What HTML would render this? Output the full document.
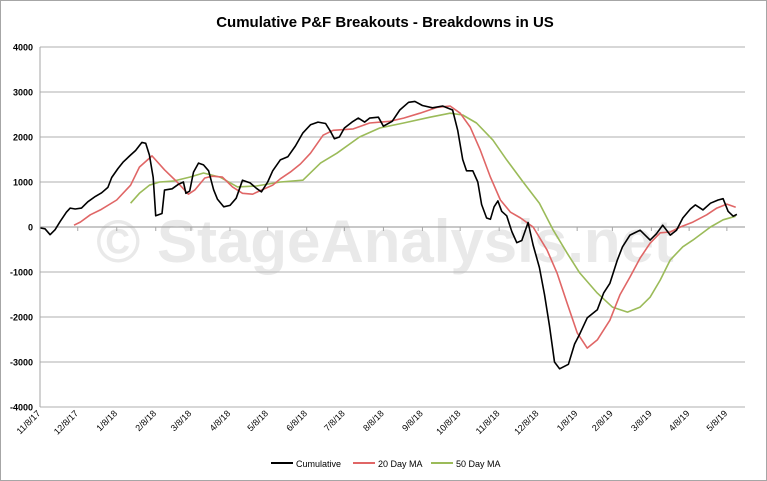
<!DOCTYPE html>
<html><head><meta charset="utf-8"><style>
html,body{margin:0;padding:0;background:#fff}
svg{display:block;font-family:"Liberation Sans",Calibri,sans-serif}
</style></head><body>
<svg id="chart" width="767" height="481" viewBox="0 0 767 481" xmlns="http://www.w3.org/2000/svg">
<rect x="0.5" y="0.5" width="766" height="480" fill="#fff" stroke="#a6a6a6"/>
<text x="385" y="27" text-anchor="middle" font-size="15" font-weight="bold" fill="#000">Cumulative P&amp;F Breakouts - Breakdowns in US</text>
<text x="385" y="262" text-anchor="middle" font-size="60" font-weight="bold" fill="#e9e9e9">© StageAnalysis.net</text>
<g id="grid"></g><g id="series"></g><g id="axes"></g>
<g>
<line x1="271" y1="463" x2="293" y2="463" stroke="#000" stroke-width="2"/>
<text x="296" y="467" font-size="9">Cumulative</text>
<line x1="353" y1="463" x2="375" y2="463" stroke="#e06666" stroke-width="2"/>
<text x="378" y="467" font-size="9">20 Day MA</text>
<line x1="431" y1="463" x2="453" y2="463" stroke="#9bbb59" stroke-width="2"/>
<text x="456" y="467" font-size="9">50 Day MA</text>
</g>
</svg>
<script>
const yTicks=[4000,3000,2000,1000,0,-1000,-2000,-3000,-4000];
const xTickLabels=["11/8/17","12/8/17","1/8/18","2/8/18","3/8/18","4/8/18","5/8/18","6/8/18","7/8/18","8/8/18","9/8/18","10/8/18","11/8/18","12/8/18","1/8/19","2/8/19","3/8/19","4/8/19","5/8/19"];
const xTickDays=[0,30,61,92,120,151,181,212,242,273,304,334,365,396,427,455,486,516,546];
const cumDays=[0,4,8,12,16,21,24,28,33,38,44,49,54,57,62,66,72,76,81,84,87,90,92,97,99,105,110,114,116,119,122,126,130,134,138,141,146,151,156,161,167,172,176,181,185,191,197,203,209,215,221,227,231,234,238,242,248,253,258,262,269,273,280,286,293,298,304,312,320,328,332,336,339,344,348,351,355,358,361,364,367,371,375,379,383,388,392,397,401,405,409,413,420,425,429,435,443,448,453,459,463,469,477,485,490,495,501,506,511,517,521,527,533,539,543,547,551,554];
const cumValues=[-20,-40,-170,-60,120,330,420,400,420,560,680,760,880,1100,1300,1440,1600,1700,1880,1860,1600,1100,250,300,820,850,950,1000,750,800,1220,1420,1380,1250,830,620,450,480,640,1040,980,860,780,1000,1250,1490,1560,1800,2090,2270,2330,2300,2120,1960,2000,2200,2330,2420,2330,2420,2440,2240,2350,2600,2770,2790,2700,2650,2690,2600,2150,1500,1250,1250,1000,500,200,170,450,580,350,250,-100,-350,-300,100,-400,-900,-1500,-2200,-3000,-3150,-3050,-2600,-2380,-2020,-1840,-1470,-1250,-730,-440,-180,-70,-290,-150,40,-180,-70,200,400,490,380,530,600,630,350,240,280];
const ma20Days=[27,32,40,48,61,72,79,89,99,109,118,123,131,137,145,153,161,169,176,185,191,199,207,215,225,233,249,262,278,289,302,316,326,334,342,350,358,366,374,382,392,403,411,419,427,435,443,453,461,469,477,485,493,501,509,519,530,538,546,553];
const ma20Values=[40,110,270,380,600,930,1330,1580,1270,1000,730,820,1090,1130,1110,890,750,730,820,930,1070,1220,1400,1640,2040,2150,2180,2310,2350,2420,2530,2660,2690,2530,2220,1710,1110,600,330,200,0,-510,-1020,-1690,-2350,-2690,-2510,-2070,-1510,-1110,-690,-360,-130,-110,0,110,270,420,510,440];
const ma50Days=[72,79,87,95,106,119,130,143,157,172,191,209,223,236,254,270,289,310,326,336,347,360,371,384,397,408,419,429,443,455,467,477,485,493,501,511,519,533,543,553];
const ma50Values=[530,750,930,1000,1020,1110,1200,1110,890,910,1000,1040,1420,1640,2000,2200,2310,2440,2530,2490,2310,1930,1490,1000,530,-70,-580,-1020,-1470,-1780,-1890,-1780,-1560,-1180,-730,-440,-290,0,160,240];

const X0=40,X1=745,PXD=1.258,YT=47,YB=407;
const xs=d=>X0+d*PXD;
const ys=v=>YT+(4000-v)/8000*(YB-YT);
const NS="http://www.w3.org/2000/svg";
function mk(tag,parent){const e=document.createElementNS(NS,tag);parent.appendChild(e);return e;}
const grid=document.getElementById('grid'),axes=document.getElementById('axes'),ser=document.getElementById('series');
yTicks.forEach(v=>{
  const l=mk('line',grid);
  
  
  l.setAttribute('x1',X0);l.setAttribute('x2',X1);l.setAttribute('y1',ys(v));l.setAttribute('y2',ys(v));
  l.setAttribute('stroke',v===0?'#a6a6a6':'#bfbfbf');l.setAttribute('stroke-width',1.3);
  const t=mk('text',axes);
  
  
  t.setAttribute('x',33);t.setAttribute('y',ys(v)+3.5);t.setAttribute('text-anchor','end');
  t.setAttribute('font-size','9');t.setAttribute('font-weight','bold');t.textContent=v;
});
const ya=mk('line',axes);


ya.setAttribute('x1',X0);ya.setAttribute('x2',X0);ya.setAttribute('y1',YT);ya.setAttribute('y2',YB);ya.setAttribute('stroke','#a6a6a6');
xTickDays.forEach((d,i)=>{
  const tk=mk('line',axes);
  
  
  tk.setAttribute('x1',xs(d));tk.setAttribute('x2',xs(d));tk.setAttribute('y1',ys(0));tk.setAttribute('y2',ys(0)+4);tk.setAttribute('stroke','#a6a6a6');
  const t=mk('text',axes);
  
  
  const x=xs(d)+1,y=414;
  t.setAttribute('x',x);t.setAttribute('y',y);t.setAttribute('text-anchor','end');
  t.setAttribute('font-size','9');t.setAttribute('transform','rotate(-45 '+x+' '+y+')');
  t.textContent=xTickLabels[i];
});
function line(days,vals,color,name){
  const p=mk('polyline',ser);
  
  
  p.setAttribute('points',days.map((d,i)=>xs(d).toFixed(1)+','+ys(vals[i]).toFixed(1)).join(' '));
  p.setAttribute('fill','none');p.setAttribute('stroke',color);p.setAttribute('stroke-width',1.6);p.setAttribute('stroke-linejoin','round');
}
line(ma50Days,ma50Values,'#9bbb59','series-50-day-ma');
line(ma20Days,ma20Values,'#e06666','series-20-day-ma');
line(cumDays,cumValues,'#000','series-cumulative');
</script>
</body></html>
